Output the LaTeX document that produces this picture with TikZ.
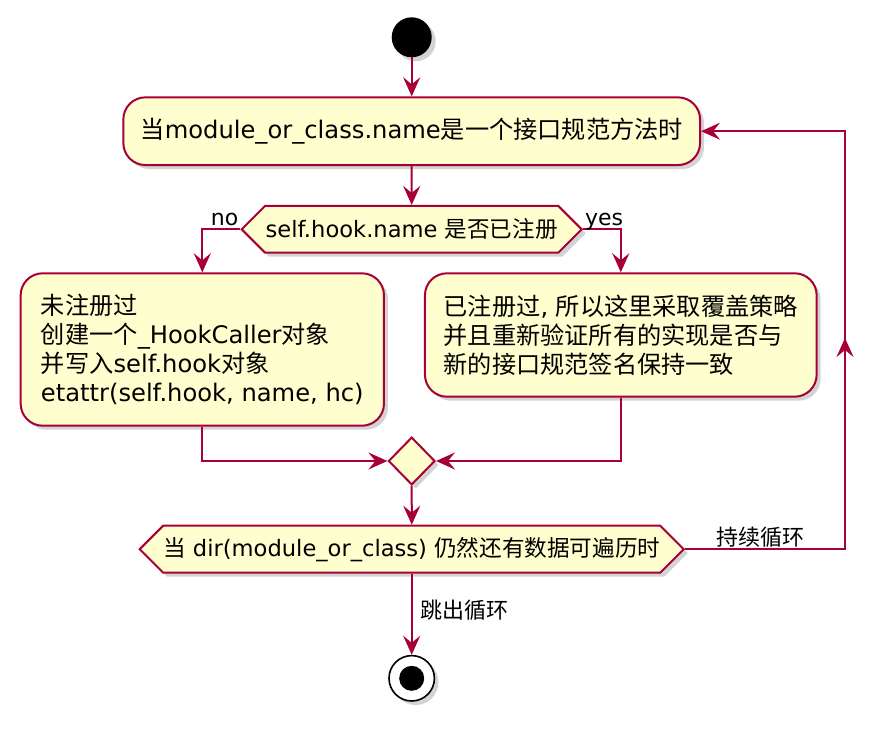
\documentclass[tikz,border=0pt]{standalone}
\usepackage{fontspec}
\setmainfont{DejaVu Sans}
\newfontfamily\cjk{Noto Sans CJK SC}
\newcommand{\zh}[1]{{\cjk #1}}
\usetikzlibrary{shapes.geometric,shapes.symbols,arrows.meta,shadows}
\definecolor{umlred}{HTML}{A80036}
\definecolor{umlfill}{HTML}{FEFECE}

\begin{document}
\begin{tikzpicture}[x=1pt, y=-1pt]

    \tikzstyle{umlshadow} = [drop shadow={opacity=0.35, shadow xshift=4pt, shadow yshift=-4pt}]
    \tikzstyle{block} = [rectangle, draw=umlred, fill=umlfill, line width=2pt, rounded corners=22pt, umlshadow, font=\fontsize{24.2}{29}\selectfont, inner sep=0pt]
    \tikzstyle{decision} = [signal, signal to=west and east, signal pointer angle=90, draw=umlred, fill=umlfill, line width=2pt, umlshadow, font=\fontsize{22.6}{26}\selectfont, inner sep=0pt]
    \tikzstyle{lbl} = [font=\fontsize{22}{26}\selectfont, inner sep=1pt]
    \tikzstyle{arrow} = [draw=umlred, line width=2pt, -{Stealth[length=19pt, width=17pt, inset=7pt]}]

    \useasboundingbox (0,0) rectangle (888,730);

    \node[circle, fill=black, minimum size=40, inner sep=0pt, umlshadow] (start) at (411.7,37.3) {};
    \node[block, minimum width=576.7, minimum height=67.7] (cond) at (411.7,131.2) {\zh{当}module\_or\_class.name\zh{是一个接口规范方法时}};
    \node[decision, minimum width=340, minimum height=46.7] (check) at (411.7,229.3) {self.hook.name \zh{是否已注册}};
    \node[block, minimum width=363.3, minimum height=152.4, align=left] (unreg) at (202.3,349.5) {\zh{未注册过}\\\zh{创建一个}\_HookCaller\zh{对象}\\\zh{并写入}self.hook\zh{对象}\\etattr(self.hook, name, hc)};
    \node[block, minimum width=391.7, minimum height=123.4, align=left] (reg) at (620.8,335) {\zh{已注册过}, \zh{所以这里采取覆盖策略}\\\zh{并且重新验证所有的实现是否与}\\\zh{新的接口规范签名保持一致}};
    \node[diamond, aspect=1, draw=umlred, fill=umlfill, line width=2pt, umlshadow, minimum width=46.6, minimum height=47.7, inner sep=0pt] (merge) at (411.7,461) {};
    \node[decision, minimum width=539.7, minimum height=47] (whilechk) at (411.7,549.2) {\zh{当} dir(module\_or\_class) \zh{仍然还有数据可遍历时}};
    \node[circle, draw=black, fill=white, line width=1.6pt, minimum size=45.4, inner sep=0pt, umlshadow] (stop) at (411.7,678.3) {};
    \node[circle, fill=black, minimum size=25, inner sep=0pt] (stopdot) at (stop) {};

    \coordinate (turn) at (845,549.2);
    \coordinate (loopmid) at (845,338);
    \coordinate (back) at (845,131.2);

    \draw[arrow] (start) -- (cond);
    \draw[arrow] (cond) -- (check);
    \draw[arrow] (check.west) -| node[lbl, pos=0, anchor=base east, yshift=4pt] {no} (unreg.north);
    \draw[arrow] (check.east) -| node[lbl, pos=0, anchor=base west, yshift=4pt] {yes} (reg.north);
    \draw[arrow] (unreg.south) |- (merge.west);
    \draw[arrow] (reg.south) |- (merge.east);
    \draw[arrow] (merge) -- (whilechk);
    \draw[arrow] (whilechk.east) -- node[lbl, above, pos=0.47] {\zh{持续循环}} (turn) -- (back) -- (cond.east);
    \draw[arrow] (turn) -- (loopmid);
    \draw[arrow] (whilechk.south) -- node[lbl, right, pos=0.45, xshift=7pt] {\zh{跳出循环}} (stop.north);

\end{tikzpicture}
\end{document}
